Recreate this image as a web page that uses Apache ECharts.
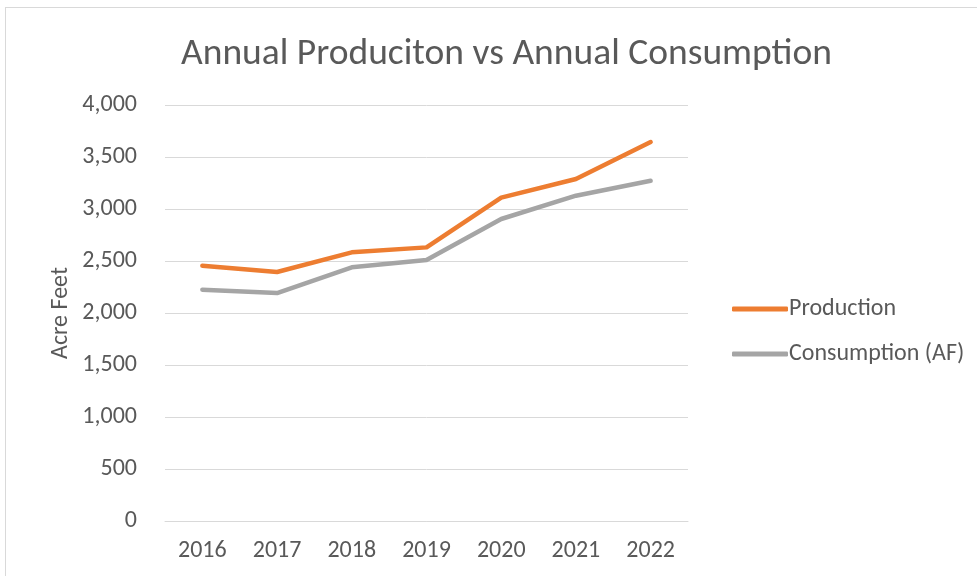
<!DOCTYPE html>
<html>
<head>
<meta charset="utf-8">
<script src="https://cdn.jsdelivr.net/npm/echarts@6/dist/echarts.min.js"></script>
<style>
  html, body { margin: 0; padding: 0; background: #fff; }
  #main { width: 977px; height: 576px; }
  #frame { position: absolute; left: 5px; top: 7px; width: 980px; height: 580px; border: 1px solid #d9d9d9; pointer-events: none; }
</style>
</head>
<body>
<div id="main"></div>
<div id="frame"></div>
<script>
var years = ['2016', '2017', '2018', '2019', '2020', '2021', '2022'];
var production = [2455, 2394, 2583, 2631, 3109, 3288, 3644];
var consumption = [2224, 2192, 2439, 2509, 2904, 3128, 3271];

var font = 'Carlito, Calibri, "Open Sans", sans-serif';
var myChart = echarts.init(document.getElementById('main'));

myChart.setOption({
  animation: false,
  title: {
    text: 'Annual Produciton vs Annual Consumption',
    left: 176,
    top: 31,
    textStyle: { color: '#595959', fontSize: 37.5, fontWeight: 'normal', fontFamily: font }
  },
  legend: {
    orient: 'vertical',
    left: 727,
    top: 292,
    itemWidth: 56,
    itemHeight: 5,
    itemGap: 21,
    icon: 'roundRect',
    textStyle: { color: '#595959', fontSize: 24, fontFamily: font, padding: [0, 0, 0, -4] },
    data: ['Production', 'Consumption (AF)']
  },
  grid: { left: 165, right: 289, top: 105, bottom: 55 },
  xAxis: {
    type: 'category',
    data: years,
    axisLine: { lineStyle: { color: '#d9d9d9' } },
    axisTick: { show: false },
    axisLabel: { color: '#595959', fontSize: 24, fontFamily: font, margin: 18 }
  },
  yAxis: {
    type: 'value',
    min: 0,
    max: 4000,
    interval: 500,
    name: 'Acre Feet',
    nameLocation: 'middle',
    nameGap: 92,
    nameMoveOverlap: false,
    nameTextStyle: { color: '#595959', fontSize: 24, fontFamily: font },
    axisLabel: {
      color: '#595959', fontSize: 24, fontFamily: font, margin: 28,
      formatter: function (v) { return v.toLocaleString('en-US'); }
    },
    splitLine: { lineStyle: { color: '#d9d9d9', width: 1 } }
  },
  series: [
    {
      name: 'Production',
      type: 'line',
      data: production,
      symbol: 'none',
      lineStyle: { color: '#ED7D31', width: 4.5, cap: 'round', join: 'round' },
      itemStyle: { color: '#ED7D31' }
    },
    {
      name: 'Consumption (AF)',
      type: 'line',
      data: consumption,
      symbol: 'none',
      lineStyle: { color: '#A5A5A5', width: 4.5, cap: 'round', join: 'round' },
      itemStyle: { color: '#A5A5A5' }
    }
  ]
});
</script>
</body>
</html>
